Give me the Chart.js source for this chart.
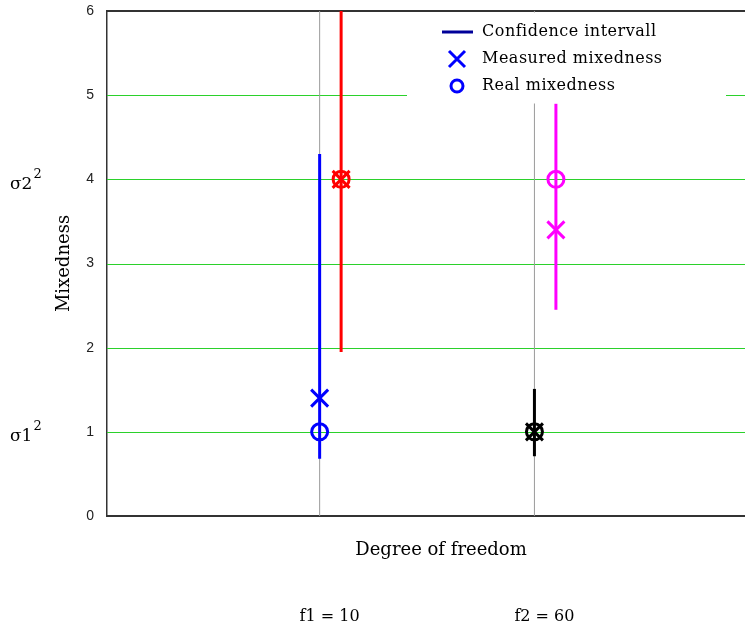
<!DOCTYPE html>
<html lang="en">
<head>
  <meta charset="UTF-8" />
  <title>Mixedness vs degree of freedom</title>
  <script src="https://cdn.jsdelivr.net/npm/chart.js"></script>
  <style>
    html, body { margin: 0; padding: 0; background: #fff; overflow: hidden; }
    #wrap { width: 775px; height: 634px; }
  </style>
</head>
<body>
<div id="wrap"><canvas id="chart" width="775" height="634"></canvas></div>
<script>
  // categories (degrees of freedom) and the sample series plotted at each one
  const dofLabels = ['f1 = 10', 'f2 = 60'];
  const seriesDof = [0, 0, 1, 1];          // which dof each series belongs to
  const seriesShift = [0, 1, 0, 1];        // first/second series at that dof
  const ciLow = [0.68, 1.95, 0.71, 2.45];
  const ciHigh = [4.3, 6.0, 1.51, 4.9];
  const measured = [1.4, 4.0, 1.0, 3.4];
  const real = [1.0, 4.0, 1.0, 4.0];
  const yTicks = [0, 1, 2, 3, 4, 5, 6];
  const sigmaValues = [1, 4];
  const sigmaLabels = ['σ1', 'σ2'];
  const legendLabels = ['Confidence intervall', 'Measured mixedness', 'Real mixedness'];

  const colors = ['#0000ff', '#ff0000', '#000000', '#ff00ff'];
  const SHIFT = 0.1;
  const serif = 'DejaVu Serif';

  const xOf = i => seriesDof[i] + 1 + seriesShift[i] * SHIFT;

  const datasets = [];
  // grey vertical lines at each dof
  dofLabels.forEach((d, k) => {
    datasets.push({
      type: 'line', data: [{ x: k + 1, y: yTicks[0] }, { x: k + 1, y: yTicks[yTicks.length - 1] }],
      borderColor: '#9a9a9a', borderWidth: 1, pointRadius: 0, order: 10
    });
  });
  ciLow.forEach((lo, i) => {
    datasets.push({
      type: 'line', data: [{ x: xOf(i), y: lo }, { x: xOf(i), y: ciHigh[i] }],
      borderColor: colors[i], borderWidth: 3, pointRadius: 0, order: 5
    });
    datasets.push({
      type: 'scatter', data: [{ x: xOf(i), y: measured[i] }],
      pointStyle: 'crossRot', radius: 12, borderWidth: 3,
      borderColor: colors[i], backgroundColor: colors[i], order: 1
    });
    datasets.push({
      type: 'scatter', data: [{ x: xOf(i), y: real[i] }],
      pointStyle: 'circle', radius: 8, borderWidth: 3,
      borderColor: colors[i], backgroundColor: 'rgba(0,0,0,0)', order: 1
    });
  });

  const extras = {
    id: 'extras',
    beforeDatasetsDraw(chart) {
      // green horizontal grid lines at the inner y ticks, dark line at the top
      const ctx = chart.ctx;
      const ca = chart.chartArea;
      const y = chart.scales.y;
      ctx.save();
      yTicks.forEach(v => {
        if (v === yTicks[0]) return;
        const top = v === yTicks[yTicks.length - 1];
        const py = top ? Math.round(y.getPixelForValue(v)) : Math.round(y.getPixelForValue(v)) + 0.5;
        ctx.strokeStyle = top ? '#333' : '#2bd12b';
        ctx.lineWidth = top ? 2 : 1;
        ctx.beginPath();
        ctx.moveTo(ca.left, py);
        ctx.lineTo(ca.right, py);
        ctx.stroke();
      });
      ctx.restore();
    },
    afterDatasetsDraw(chart) {
      const ctx = chart.ctx;
      const ca = chart.chartArea;
      const x = chart.scales.x, y = chart.scales.y;
      ctx.save();

      // legend box
      const bx = ca.left + 300;
      ctx.fillStyle = '#fff';
      ctx.fillRect(bx, ca.top + 1.5, 319, 91);
      ctx.font = '16px "' + serif + '"';
      ctx.letterSpacing = '0.5px';
      ctx.fillStyle = '#000';
      ctx.textBaseline = 'middle';
      ctx.textAlign = 'left';
      const rows = [32, 59, 86];
      legendLabels.forEach((t, k) => ctx.fillText(t, bx + 75, rows[k]));
      ctx.letterSpacing = '0px';
      ctx.strokeStyle = '#000099';
      ctx.lineWidth = 3;
      ctx.beginPath();
      ctx.moveTo(bx + 35, rows[0]); ctx.lineTo(bx + 66, rows[0]);
      ctx.stroke();
      const cx = bx + 50;
      ctx.strokeStyle = '#0000ff';
      ctx.beginPath();
      ctx.moveTo(cx - 8, rows[1] - 8); ctx.lineTo(cx + 8, rows[1] + 8);
      ctx.moveTo(cx + 8, rows[1] - 8); ctx.lineTo(cx - 8, rows[1] + 8);
      ctx.stroke();
      ctx.beginPath();
      ctx.arc(cx, rows[2], 6, 0, Math.PI * 2);
      ctx.stroke();

      // sigma labels on the left
      sigmaValues.forEach((v, k) => {
        const py = y.getPixelForValue(v) + 5;
        ctx.font = '17px "' + serif + '"';
        ctx.textAlign = 'left';
        ctx.textBaseline = 'middle';
        ctx.fillText(sigmaLabels[k], 10, py);
        const w = ctx.measureText(sigmaLabels[k]).width;
        ctx.font = '13px "' + serif + '"';
        ctx.fillText('2', 10 + w + 1, py - 10);
      });

      // dof labels under the axis
      ctx.font = '16px "' + serif + '"';
      ctx.textAlign = 'center';
      dofLabels.forEach((t, k) => ctx.fillText(t, x.getPixelForValue(k + 1) + 10, 617));
      ctx.restore();
    }
  };

  new Chart(document.getElementById('chart'), {
    type: 'scatter',
    data: { datasets },
    options: {
      responsive: false,
      animation: false,
      layout: { autoPadding: false, padding: { top: 11, right: 0, left: 0, bottom: 0 } },
      plugins: { legend: { display: false }, tooltip: { enabled: false } },
      scales: {
        x: {
          type: 'linear', min: 0.01, max: 3.12,
          ticks: { display: false },
          grid: { display: false },
          border: { color: '#333', width: 2 },
          title: {
            display: true, text: 'Degree of freedom', color: '#000',
            font: { family: serif, size: 18 }, padding: { top: 0, bottom: 73 }
          },
          afterFit(s) { s.height = 118; s.paddingLeft = 0; s.paddingRight = 0; }
        },
        y: {
          type: 'linear', min: yTicks[0], max: yTicks[yTicks.length - 1],
          afterBuildTicks(s) { s.ticks = yTicks.map(v => ({ value: v })); },
          ticks: { color: '#222', padding: 5, font: { family: 'Liberation Sans', size: 14 } },
          grid: { display: false },
          border: { color: '#333', width: 1.5 },
          title: {
            display: true, text: 'Mixedness', color: '#000',
            font: { family: serif, size: 18 }, padding: { top: 54, bottom: 0 }
          },
          afterFit(s) { s.width = 107; s.paddingTop = 0; s.paddingBottom = 0; }
        }
      }
    },
    plugins: [extras]
  });
</script>
</body>
</html>
